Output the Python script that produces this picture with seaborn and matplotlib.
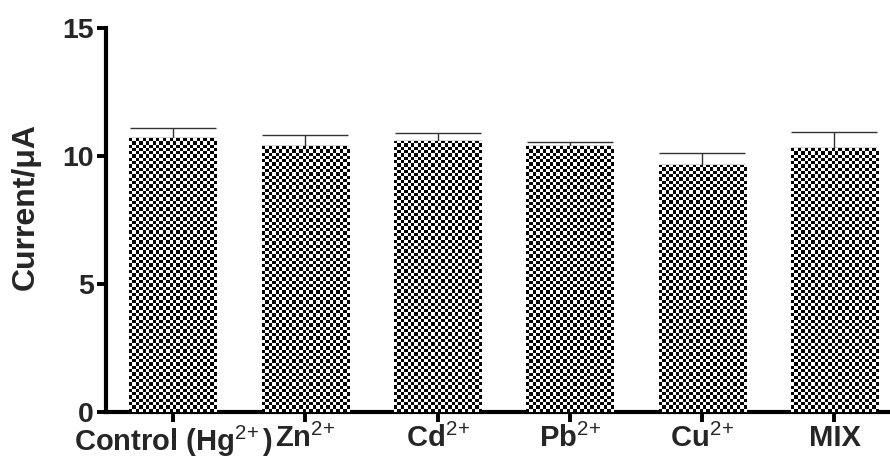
import numpy as np
import pandas as pd
import matplotlib
matplotlib.use("Agg")
import matplotlib.pyplot as plt
import seaborn as sns

categories = ["Control (Hg$^{2\\!+}$)", "Zn$^{2\\!+}$", "Cd$^{2\\!+}$", "Pb$^{2\\!+}$", "Cu$^{2\\!+}$", "MIX"]
currents = [10.70, 10.39, 10.60, 10.39, 9.65, 10.30]
errors = [0.40, 0.43, 0.30, 0.14, 0.48, 0.65]
y_ticks = [0, 5, 10, 15]

sns.set_style("ticks")
plt.rcParams["font.family"] = ["Liberation Sans", "DejaVu Sans"]
plt.rcParams["mathtext.fontset"] = "custom"
plt.rcParams["mathtext.rm"] = "Liberation Sans"
plt.rcParams["mathtext.it"] = "Liberation Sans"
plt.rcParams["mathtext.bf"] = "Liberation Sans:bold"

fig = plt.figure(figsize=(8.9, 4.59), dpi=100)
ax = fig.add_axes([0.119, 0.1024, 0.881, 0.8366])

df = pd.DataFrame({"cat": categories, "val": currents})
sns.barplot(data=df, x="cat", y="val", color="white", width=0.66,
            errorbar=None, ax=ax, linewidth=0, zorder=3)

ax.set_ylim(0, 15)
ax.set_xlim(-0.508, 5.42)
ax.set_yticks(y_ticks)

xs = np.arange(len(categories))
ax.errorbar(xs, currents, yerr=[np.zeros(len(errors)), errors], fmt="none",
            ecolor="#333333", elinewidth=1.0, capsize=31, capthick=1.0, zorder=2)

# checkerboard fill for each bar
fig.canvas.draw()
cell = 3.3
for p in ax.patches:
    x0, y0 = p.get_x(), p.get_y()
    w, h = p.get_width(), p.get_height()
    (px0, py0) = ax.transData.transform((x0, y0))
    (px1, py1) = ax.transData.transform((x0 + w, y0 + h))
    nx = max(1, int(round(abs(px1 - px0) / cell)))
    ny = max(1, int(round(abs(py1 - py0) / cell)))
    ii, jj = np.indices((ny, nx))
    checker = ((ii + jj) % 2).astype(float)
    im = ax.imshow(checker, cmap="gray", vmin=0, vmax=1, interpolation="nearest",
                   extent=(x0, x0 + w, y0, y0 + h), origin="upper",
                   aspect="auto", zorder=4)
    im.set_clip_path(p)

ax.set_xlim(-0.508, 5.42)
ax.set_ylim(0, 15)

sns.despine(ax=ax)
for s in ["left", "bottom"]:
    ax.spines[s].set_linewidth(3)
    ax.spines[s].set_color("black")
ax.tick_params(axis="y", width=2.8, length=6.5, color="black",
               labelsize=20.5, pad=2)
ax.tick_params(axis="x", width=2.8, length=7.2, color="black",
               labelsize=21, pad=1.5)
for lab in ax.get_xticklabels() + ax.get_yticklabels():
    lab.set_fontweight("bold")
ax.set_xlabel("")
ax.set_ylabel("Current/μA", fontsize=23, fontweight="bold")
ax.yaxis.set_label_coords(-0.083, 0.536)

fig.savefig("out.png", dpi=100)
